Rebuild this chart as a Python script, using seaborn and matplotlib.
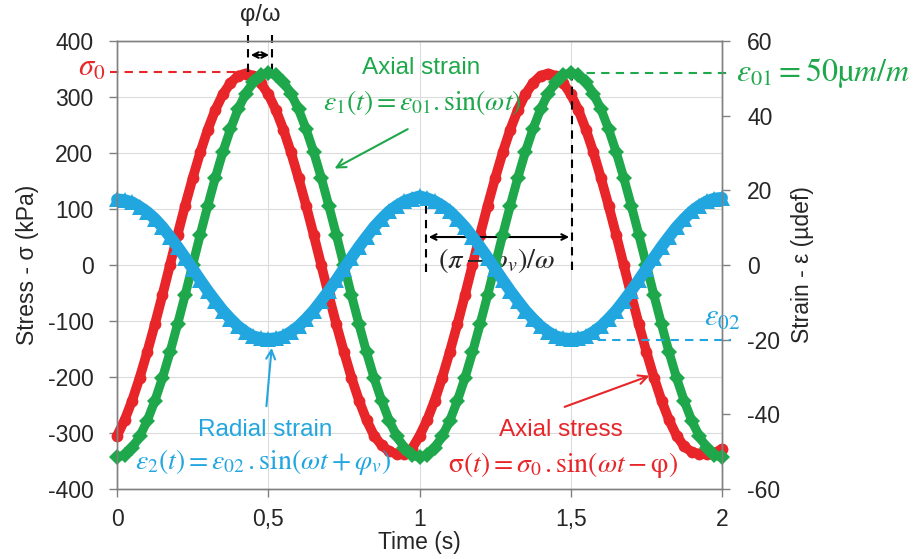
import matplotlib
matplotlib.use('Agg')
import matplotlib.pyplot as plt
import seaborn as sns

# -----------------------------------------------------------
# Data read off the reference (sampled every 0.025 s)
# -----------------------------------------------------------
time_s = [0.000, 0.025, 0.050, 0.075, 0.100, 0.125, 0.150, 0.175, 0.200, 0.225,
          0.250, 0.275, 0.300, 0.325, 0.350, 0.375, 0.400, 0.425, 0.450, 0.475,
          0.500, 0.525, 0.550, 0.575, 0.600, 0.625, 0.650, 0.675, 0.700, 0.725,
          0.750, 0.775, 0.800, 0.825, 0.850, 0.875, 0.900, 0.925, 0.950, 0.975,
          1.000, 1.025, 1.050, 1.075, 1.100, 1.125, 1.150, 1.175, 1.200, 1.225,
          1.250, 1.275, 1.300, 1.325, 1.350, 1.375, 1.400, 1.425, 1.450, 1.475,
          1.500, 1.525, 1.550, 1.575, 1.600, 1.625, 1.650, 1.675, 1.700, 1.725,
          1.750, 1.775, 1.800, 1.825, 1.850, 1.875, 1.900, 1.925, 1.950, 1.975,
          2.000]

# axial stress (kPa, left axis)
axial_stress = [-305, -277, -242, -201, -155, -106, -54, 0, 54, 106,
                155, 201, 242, 277, 305, 325, 338, 342, 338, 325,
                305, 277, 242, 201, 155, 106, 54, 0, -54, -106,
                -155, -201, -242, -277, -305, -322, -333, -337, -337, -328,
                -305, -277, -242, -201, -155, -106, -54, 0, 54, 106,
                155, 201, 242, 277, 305, 325, 338, 342, 338, 325,
                305, 277, 242, 201, 155, 106, 54, 0, -54, -106,
                -155, -201, -242, -277, -305, -324, -334, -337, -337, -336,
                -328]

# axial strain (µdef, right axis)
axial_strain = [-51.5, -50.9, -49.0, -45.9, -41.7, -36.4, -30.3, -23.4, -15.9, -8.1,
                0.0, 8.1, 15.9, 23.4, 30.3, 36.4, 41.7, 45.9, 49.0, 50.9,
                51.5, 50.9, 49.0, 45.9, 41.7, 36.4, 30.3, 23.4, 15.9, 8.1,
                0.0, -8.1, -15.9, -23.4, -30.3, -36.4, -41.7, -45.9, -49.0, -50.9,
                -51.5, -50.9, -49.0, -45.9, -41.7, -36.4, -30.3, -23.4, -15.9, -8.1,
                0.0, 8.1, 15.9, 23.4, 30.3, 36.4, 41.7, 45.9, 49.0, 50.9,
                51.5, 50.9, 49.0, 45.9, 41.7, 36.4, 30.3, 23.4, 15.9, 8.1,
                0.0, -8.1, -15.9, -23.4, -30.3, -36.4, -41.7, -45.9, -49.0, -50.9,
                -51.5]

# radial strain (µdef, right axis)
radial_strain = [17.6, 17.4, 16.8, 15.6, 14.2, 12.4, 10.2, 7.6, 4.9, 2.0,
                 -1.0, -4.0, -6.9, -9.6, -12.2, -14.4, -16.4, -17.9, -19.1, -19.6,
                 -19.8, -19.6, -19.1, -17.9, -16.4, -14.4, -12.2, -9.6, -6.9, -4.0,
                 -1.0, 2.0, 4.9, 7.6, 10.2, 12.4, 14.4, 15.9, 17.1, 17.8,
                 18.4, 17.9, 17.1, 15.9, 14.4, 12.4, 10.2, 7.6, 4.9, 2.0,
                 -1.0, -4.0, -6.9, -9.6, -12.2, -14.4, -16.4, -17.9, -19.1, -19.6,
                 -19.8, -19.6, -19.1, -17.9, -16.4, -14.4, -12.2, -9.6, -6.9, -4.0,
                 -1.0, 2.0, 4.9, 7.6, 10.2, 12.4, 14.4, 15.9, 17.1, 17.8,
                 18.0]

x_ticks = [0, 0.5, 1, 1.5, 2]
x_tick_labels = ['0', '0,5', '1', '1,5', '2']
stress_ticks = [-400, -300, -200, -100, 0, 100, 200, 300, 400]
strain_ticks = [-60, -40, -20, 0, 20, 40, 60]

RED = '#e8262a'
GREEN = '#1ea84b'
BLUE = '#22a6e0'
GRAY = '#808080'

# -----------------------------------------------------------
# Style
# -----------------------------------------------------------
sns.set_style('white')
plt.rcParams['font.family'] = ['Liberation Sans', 'DejaVu Sans']
plt.rcParams['mathtext.fontset'] = 'stix'

fig = plt.figure(figsize=(9.15, 5.59), dpi=100)
ax = fig.add_axes([0.1279, 0.1252, 0.6612, 0.8014])
ax2 = ax.twinx()

# -----------------------------------------------------------
# Curves
# -----------------------------------------------------------
sns.lineplot(x=time_s, y=axial_stress, ax=ax, color=RED, lw=7,
             marker='o', markersize=8.5, markeredgewidth=0, clip_on=False)
sns.lineplot(x=time_s, y=axial_strain, ax=ax2, color=GREEN, lw=6.5,
             marker='D', markersize=8, markeredgewidth=0, clip_on=False)
sns.lineplot(x=time_s, y=radial_strain, ax=ax2, color=BLUE, lw=8.5,
             marker='^', markersize=11.5, markeredgewidth=0, clip_on=False)

# -----------------------------------------------------------
# Axes
# -----------------------------------------------------------
ax.set_xlim(0, 2)
ax.set_ylim(-400, 400)
ax2.set_ylim(-60, 60)
ax.set_xticks(x_ticks)
ax.set_xticklabels(x_tick_labels)
ax.set_yticks(stress_ticks)
ax.set_yticklabels([str(v) for v in stress_ticks])
ax2.set_yticks(strain_ticks)
ax2.set_yticklabels([str(v) for v in strain_ticks])

ax.grid(True, color='#dcdcdc', lw=0.8)
ax.set_axisbelow(True)
for a in (ax, ax2):
    for s in a.spines.values():
        s.set_color(GRAY)
        s.set_linewidth(1)
ax.tick_params(axis='x', bottom=True, direction='out', length=6, width=1,
               color=GRAY, labelsize=16.5, pad=8)
ax.tick_params(axis='y', left=True, direction='out', length=6, width=1,
               color=GRAY, labelsize=16.5, pad=11)
ax2.tick_params(axis='y', right=True, direction='out', length=6, width=1,
                color=GRAY, labelsize=16.5, pad=12)

ax.set_xlabel('Time (s)', fontsize=16.5, labelpad=0)
ax.set_ylabel('Stress - σ (kPa)', fontsize=16.5, labelpad=6)
ax2.set_ylabel('Strain - ε (µdef)', fontsize=16.5, labelpad=8)

# -----------------------------------------------------------
# Annotations
# -----------------------------------------------------------
dash = dict(lw=1.5, ls=(0, (4, 3)), clip_on=False)

# phase shift phi/omega at top
ax.plot([0.433, 0.433], [345, 410], color='black', **dash)
ax.plot([0.512, 0.512], [345, 410], color='black', **dash)
ax.annotate('', xy=(0.433, 375), xytext=(0.512, 375),
            arrowprops=dict(arrowstyle='<->', color='black', lw=1.5), annotation_clip=False)
ax.text(0.473, 446, 'φ/ω', fontsize=17, ha='center', va='center')

# sigma0
ax.plot([-0.023, 0.425], [344, 344], color=RED, **dash)
ax.text(-0.04, 352, r'$\sigma_0$', color=RED, fontsize=22, ha='right', va='center')

# epsilon01
ax2.plot([1.504, 2.03], [51.5, 51.5], color=GREEN, **dash)
ax2.text(2.045, 51.5, r'$\varepsilon_{01} = 50\mathrm{µ}m/m$', color=GREEN,
         fontsize=23, ha='left', va='center')

# epsilon02
ax2.plot([1.54, 2.03], [-20.1, -20.1], color=BLUE, **dash)
ax2.text(2.0, -14.2, r'$\varepsilon_{02}$', color=BLUE, fontsize=22, ha='center', va='center')

# (pi - phi_v)/omega
ax.plot([1.504, 1.504], [-9, 344], color='black', **dash)
ax.plot([1.021, 1.021], [-12, 112], color='black', **dash)
ax.annotate('', xy=(1.021, 50), xytext=(1.504, 50),
            arrowprops=dict(arrowstyle='<->', color='black', lw=1.5))
ax.text(1.256, 7, r'$(\pi - \varphi_v)/\omega$', fontsize=20.5, ha='center', va='center')

# axial strain label
ax.text(1.005, 352, 'Axial strain', color=GREEN, fontsize=17.5, ha='center', va='center')
ax.text(1.008, 291, r'$\varepsilon_1(t) = \varepsilon_{01}.\sin(\omega t)$', color=GREEN,
        fontsize=20, ha='center', va='center')
ax.annotate('', xy=(0.711, 170), xytext=(0.969, 245),
            arrowprops=dict(arrowstyle='->', color=GREEN, lw=1.5, mutation_scale=16))

# radial strain label
ax.text(0.489, -295, 'Radial strain', color=BLUE, fontsize=17.5, ha='center', va='center')
ax.text(0.483, -352, r'$\varepsilon_2(t) = \varepsilon_{02}\,.\sin(\omega t + \varphi_v)$',
        color=BLUE, fontsize=20, ha='center', va='center')
ax.annotate('', xy=(0.512, -143), xytext=(0.493, -257),
            arrowprops=dict(arrowstyle='->', color=BLUE, lw=1.5, mutation_scale=16))

# axial stress label
ax.text(1.468, -295, 'Axial stress', color=RED, fontsize=17.5, ha='center', va='center')
ax.text(1.474, -357, r'$\mathrm{σ}(t) = \sigma_0\,.\sin(\omega t - \mathrm{φ})$',
        color=RED, fontsize=20, ha='center', va='center')
ax.annotate('', xy=(1.769, -196), xytext=(1.471, -255),
            arrowprops=dict(arrowstyle='->', color=RED, lw=1.5, mutation_scale=16))

plt.savefig('out.png', dpi=100)
